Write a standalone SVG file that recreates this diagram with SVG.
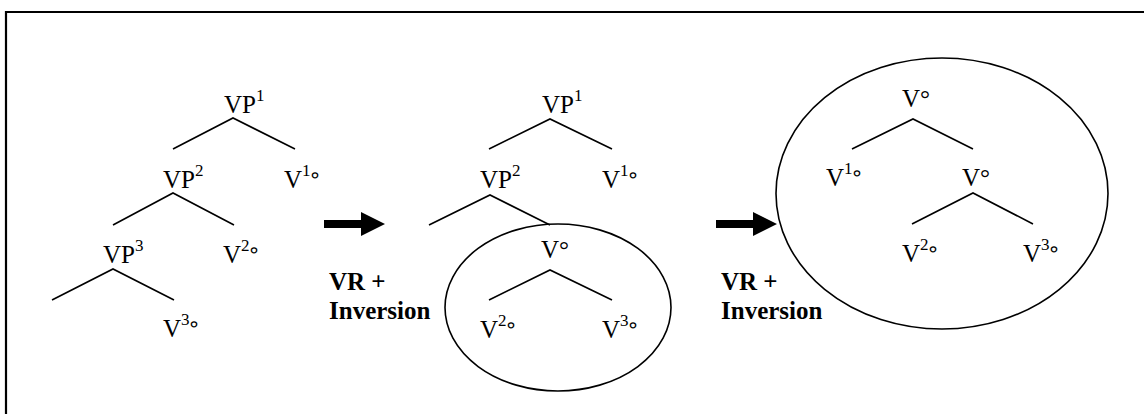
<svg xmlns="http://www.w3.org/2000/svg" width="1144" height="414" viewBox="0 0 1144 414">
<style>
.t{font-family:"Liberation Serif","Times New Roman",serif;font-size:25px;fill:#000}
.s{font-size:17px}
.r{font-family:"DejaVu Sans",sans-serif;font-size:21px}
.b{font-family:"Liberation Serif","Times New Roman",serif;font-size:25px;font-weight:bold;fill:#000}
.e{stroke:#000;stroke-width:1.6;fill:none}
.arr{fill:#000}
</style>
<rect width="1144" height="414" fill="#fff"/>
<g id="border" stroke="#000" stroke-width="2.2" fill="none">
<path d="M6,414 V12 H1144"/>
</g>
<g id="connectors">
<g class="e">
<path d="M173,149 L233,118 L295,149"/>
<path d="M113,225 L173,193 L234,225"/>
<path d="M52,300 L113,269 L174,300"/>
<path d="M489,149 L550,119 L612,149"/>
<path d="M429,225 L490,195 L550,225"/>
<path d="M489,300 L550,270 L612,300"/>
<path d="M852,149 L913,119 L973,149"/>
<path d="M912,224 L973,193 L1033,224"/>
</g>
<polygon class="arr" points="324,220 361,220 361,212 385,224 361,236 361,228 324,228"/>
<polygon class="arr" points="716,220 753,220 753,212 777,224 753,236 753,228 716,228"/>
</g>
<g id="tree1">
<text class="t" x="224" y="113">VP<tspan class="s" dy="-12">1</tspan></text>
<text class="t" x="163" y="188">VP<tspan class="s" dy="-12">2</tspan></text>
<text class="t" x="284" y="188">V<tspan class="s" dy="-12">1</tspan><tspan class="r" dx="-2" dy="6">∘</tspan></text>
<text class="t" x="103" y="263">VP<tspan class="s" dy="-12">3</tspan></text>
<text class="t" x="223" y="263">V<tspan class="s" dy="-12">2</tspan><tspan class="r" dx="-2" dy="6">∘</tspan></text>
<text class="t" x="163" y="337">V<tspan class="s" dy="-12">3</tspan><tspan class="r" dx="-2" dy="6">∘</tspan></text>
</g>
<g id="label1">
<text class="b" x="329" y="290">VR +</text>
<text class="b" x="329" y="319">Inversion</text>
</g>
<g id="tree2">
<text class="t" x="542" y="113">VP<tspan class="s" dy="-12">1</tspan></text>
<text class="t" x="480" y="188">VP<tspan class="s" dy="-12">2</tspan></text>
<text class="t" x="602" y="188">V<tspan class="s" dy="-12">1</tspan><tspan class="r" dx="-2" dy="6">∘</tspan></text>
</g>
<g id="circle2">
<ellipse class="e" cx="558" cy="307.5" rx="113" ry="83.5"/>
<text class="t" x="541" y="258">V°</text>
<text class="t" x="480" y="338">V<tspan class="s" dy="-12">2</tspan><tspan class="r" dx="-2" dy="6">∘</tspan></text>
<text class="t" x="602" y="338">V<tspan class="s" dy="-12">3</tspan><tspan class="r" dx="-2" dy="6">∘</tspan></text>
</g>
<g id="label2">
<text class="b" x="721" y="290">VR +</text>
<text class="b" x="721" y="319">Inversion</text>
</g>
<g id="circle3">
<ellipse class="e" cx="942" cy="193.5" rx="166" ry="135.5"/>
<text class="t" x="902" y="107">V°</text>
<text class="t" x="826" y="186">V<tspan class="s" dy="-12">1</tspan><tspan class="r" dx="-2" dy="6">∘</tspan></text>
<text class="t" x="962" y="186">V°</text>
<text class="t" x="902" y="262">V<tspan class="s" dy="-12">2</tspan><tspan class="r" dx="-2" dy="6">∘</tspan></text>
<text class="t" x="1023" y="262">V<tspan class="s" dy="-12">3</tspan><tspan class="r" dx="-2" dy="6">∘</tspan></text>
</g>
</svg>
